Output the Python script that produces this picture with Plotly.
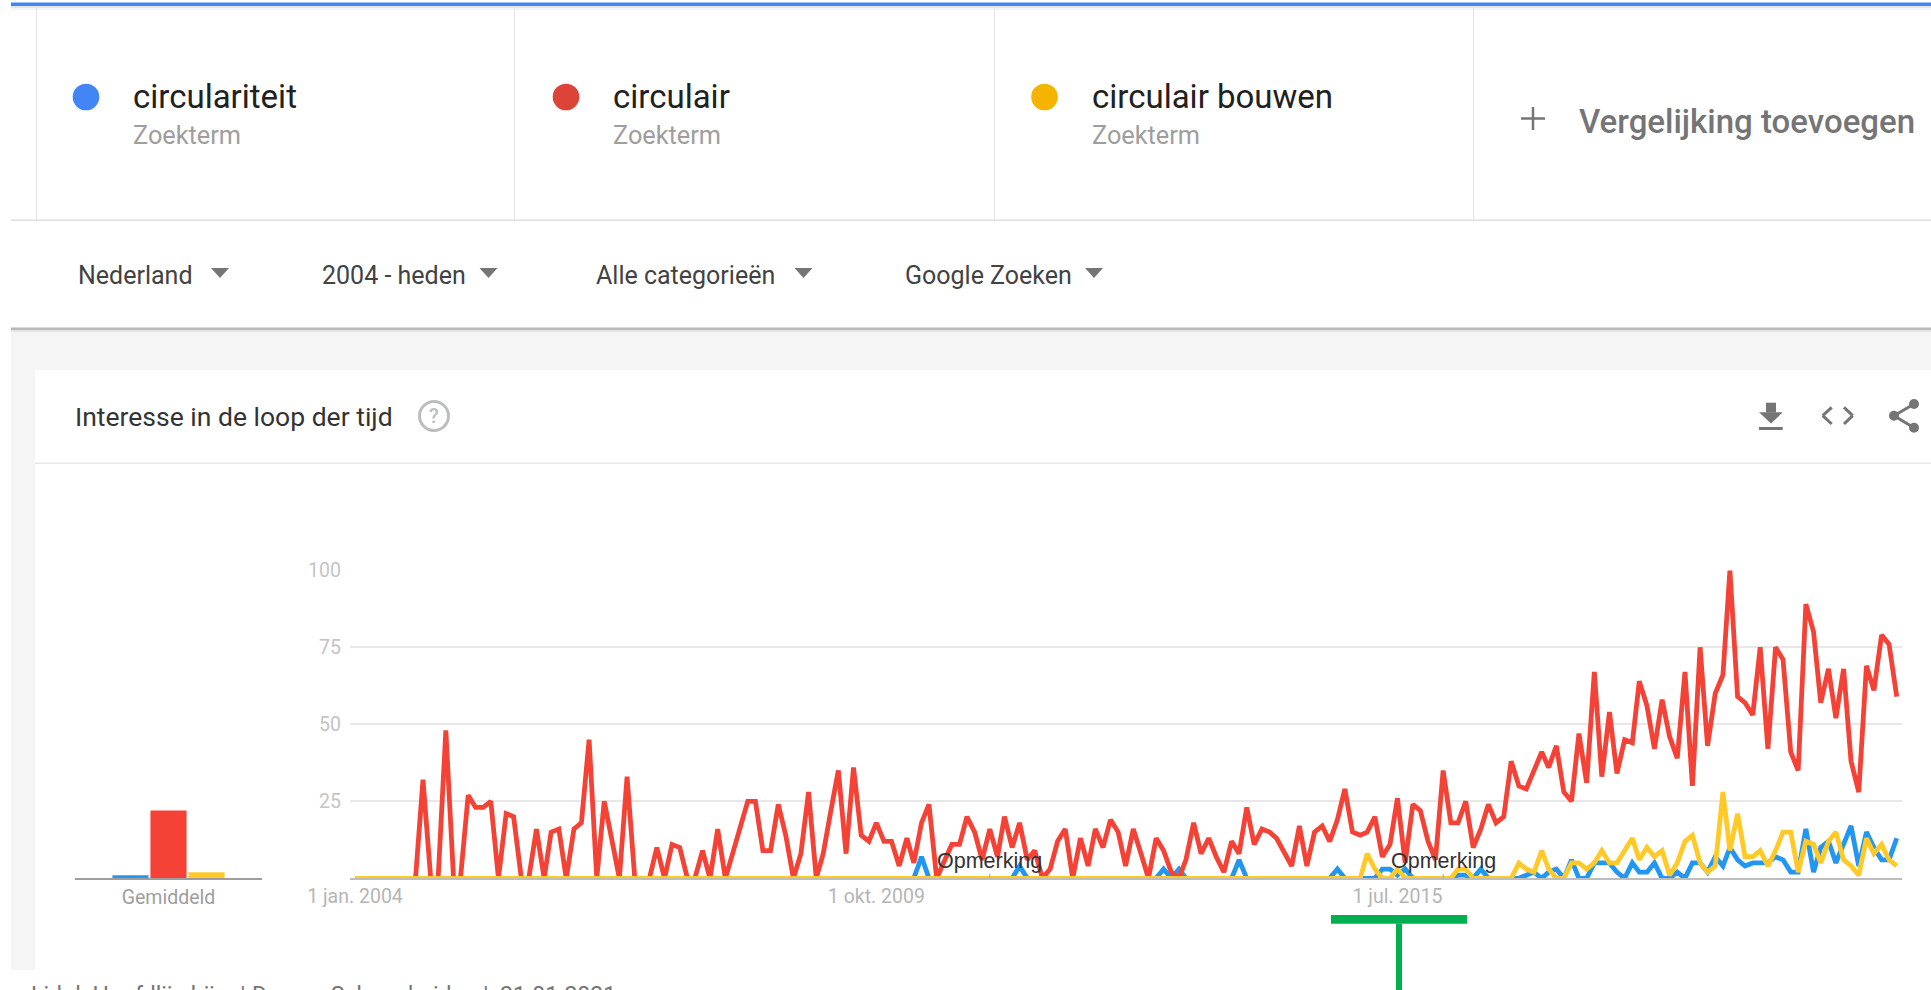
import pandas as pd
import plotly.graph_objects as go

W, H = 1931, 990

# ---------- data ----------
start_month = "2004-01-01"
month_count = 205

circulair = [
    0, 0, 0, 0, 0, 0, 0, 0, 0, 32,
    0, 0, 48, 0, 0, 27, 23, 23, 25, 0,
    21, 20, 0, 0, 16, 0, 15, 16, 0, 16,
    18, 45, 0, 25, 12, 0, 33, 0, 0, 0,
    10, 0, 11, 10, 0, 0, 9, 0, 16, 0,
    8, 17, 25, 25, 9, 9, 24, 14, 0, 8,
    28, 0, 8, 22, 35, 8, 36, 14, 12, 18,
    12, 12, 4, 13, 5, 18, 24, 0, 5, 11,
    11, 20, 15, 6, 16, 7, 20, 10, 18, 6,
    9, 0, 3, 12, 16, 0, 13, 4, 16, 10,
    19, 15, 4, 16, 8, 0, 13, 9, 2, 0,
    6, 18, 8, 13, 7, 2, 12, 8, 23, 11,
    16, 15, 13, 8, 4, 17, 4, 15, 17, 12,
    19, 29, 15, 14, 15, 20, 7, 11, 26, 5,
    24, 22, 12, 6, 35, 18, 18, 25, 10, 16,
    24, 18, 20, 38, 30, 29, 35, 41, 36, 43,
    28, 25, 47, 31, 67, 33, 54, 34, 45, 44,
    64, 56, 42, 58, 46, 39, 67, 30, 75, 43,
    60, 66, 100, 59, 57, 53, 75, 42, 75, 71,
    41, 35, 89, 80, 57, 68, 52, 68, 38, 28,
    69, 61, 79, 76, 59,
]

circulariteit = [
    0, 0, 0, 0, 0, 0, 0, 0, 0, 0,
    0, 0, 0, 0, 0, 0, 0, 0, 0, 0,
    0, 0, 0, 0, 0, 0, 0, 0, 0, 0,
    0, 0, 0, 0, 0, 0, 0, 0, 0, 0,
    0, 0, 0, 0, 0, 0, 0, 0, 0, 0,
    0, 0, 0, 0, 0, 0, 0, 0, 0, 0,
    0, 0, 0, 0, 0, 0, 0, 0, 0, 0,
    0, 0, 0, 0, 0, 7, 0, 0, 0, 0,
    0, 0, 0, 0, 0, 0, 0, 0, 4, 0,
    0, 0, 0, 0, 0, 0, 0, 0, 0, 0,
    0, 0, 0, 0, 0, 0, 0, 3, 0, 3,
    0, 0, 0, 0, 0, 0, 0, 6, 0, 0,
    0, 0, 0, 0, 0, 0, 0, 0, 0, 0,
    3, 0, 0, 0, 0, 0, 3, 3, 1, 3,
    0, 0, 0, 0, 0, 0, 1, 1, 0, 3,
    0, 0, 0, 0, 0, 1, 2, 0, 2, 3,
    0, 6, 0, 0, 5, 5, 5, 2, 0, 5,
    2, 2, 5, 0, 0, 2, 0, 5, 5, 2,
    7, 4, 10, 6, 4, 5, 5, 5, 7, 6,
    2, 2, 16, 2, 10, 12, 5, 11, 17, 4,
    15, 10, 6, 6, 13,
]

circulair_bouwen = [
    0, 0, 0, 0, 0, 0, 0, 0, 0, 0,
    0, 0, 0, 0, 0, 0, 0, 0, 0, 0,
    0, 0, 0, 0, 0, 0, 0, 0, 0, 0,
    0, 0, 0, 0, 0, 0, 0, 0, 0, 0,
    0, 0, 0, 0, 0, 0, 0, 0, 0, 0,
    0, 0, 0, 0, 0, 0, 0, 0, 0, 0,
    0, 0, 0, 0, 0, 0, 0, 0, 0, 0,
    0, 0, 0, 0, 0, 0, 0, 0, 0, 0,
    0, 0, 0, 0, 0, 0, 0, 0, 0, 0,
    0, 0, 0, 0, 0, 0, 0, 0, 0, 0,
    0, 0, 0, 0, 0, 0, 0, 0, 0, 0,
    0, 0, 0, 0, 0, 0, 0, 0, 0, 0,
    0, 0, 0, 0, 0, 0, 0, 0, 0, 0,
    0, 0, 0, 0, 8, 3, 0, 0, 3, 0,
    0, 0, 0, 0, 0, 0, 3, 3, 0, 0,
    0, 0, 0, 0, 5, 3, 2, 9, 3, 0,
    0, 5, 5, 3, 5, 9, 5, 5, 9, 13,
    6, 10, 7, 9, 1, 5, 12, 14, 5, 2,
    4, 28, 9, 21, 7, 7, 9, 4, 9, 15,
    15, 2, 12, 11, 5, 12, 15, 6, 4, 1,
    13, 8, 11, 6, 4,
]

average_category = ["Gemiddeld"]
average_circulariteit = [1]
average_circulair = [22]
average_circulair_bouwen = [2]

y_ticks = [25, 50, 75, 100]
x_tick_dates = ["2004-01-01", "2009-10-01", "2015-07-01"]
x_tick_labels = ["1 jan. 2004", "1 okt. 2009", "1 jul. 2015"]
note_dates = ["2011-01-01", "2016-01-01"]
note_label = "Opmerking"

term_names = ["circulariteit", "circulair", "circulair bouwen"]
term_sub = "Zoekterm"
filter_labels = ["Nederland", "2004 - heden", "Alle categorieën", "Google Zoeken"]
card_title = "Interesse in de loop der tijd"
add_label = "Vergelijking toevoegen"
footer_parts = ["Lid d. Hoofdlijn bij", "|", "Door ... Schoonheid", "|", "21-01-2021"]

# ---------- style ----------
BLUE, RED, YELLOW = "#2196f3", "#f44336", "#ffca28"
CHIP_BLUE, CHIP_RED, CHIP_YELLOW = "#4285f4", "#db4437", "#f4b400"
FONT = "Roboto"
ICON = "#757575"

assert len(circulair) == len(circulariteit) == len(circulair_bouwen) == month_count
months = pd.date_range(start_month, periods=month_count, freq="MS")


def px(x):
    return x / W


def py(y):
    return 1 - y / H


shapes = []
annotations = []


def rect(x0, y0, x1, y1, fill):
    shapes.append(dict(type="rect", xref="paper", yref="paper", layer="below",
                       x0=px(x0), x1=px(x1), y0=py(y0), y1=py(y1),
                       fillcolor=fill, line_width=0))


def line(x0, y0, x1, y1, color, width, layer="below"):
    shapes.append(dict(type="line", xref="paper", yref="paper", layer=layer,
                       x0=px(x0), x1=px(x1), y0=py(y0), y1=py(y1),
                       line=dict(color=color, width=width)))


def circle(cx, cy, r, fill, outline=None, width=0):
    shapes.append(dict(type="circle", xref="paper", yref="paper", layer="below",
                       x0=px(cx - r), x1=px(cx + r), y0=py(cy + r), y1=py(cy - r),
                       fillcolor=fill, line=dict(color=outline or fill, width=width)))


def poly(points, fill):
    d = "M " + " L ".join(f"{px(x):.5f} {py(y):.5f}" for x, y in points) + " Z"
    shapes.append(dict(type="path", xref="paper", yref="paper", layer="below",
                       path=d, fillcolor=fill, line_width=0))


def label(x, y, text, size, color, anchor="left", weight=None, yanchor="middle"):
    annotations.append(dict(xref="paper", yref="paper", x=px(x), y=py(y), text=text,
                            showarrow=False, xanchor=anchor, yanchor=yanchor,
                            borderpad=0, borderwidth=0,
                            font=dict(family=FONT, size=size, color=color,
                                      weight=weight if weight else 400)))


# page chrome
rect(11, 0, W, 330, "#ffffff")
rect(11, 330, W, 970, "#f5f5f5")
rect(35, 370, W, 970, "#ffffff")
rect(11, 2.5, W, 6.2, CHIP_BLUE)
rect(11, 6.2, W, 8, "#e6e6e6")
rect(11, 8, W, 10, "#f5f5f5")
rect(11, 219.5, W, 221, "#e0e0e0")
rect(11, 327.5, W, 330, "#b8b8b8")
rect(11, 330, W, 332, "#e6e6e6")
rect(35, 462.5, W, 464, "#e8e8e8")
for divider_x in (36, 514, 994, 1473):
    rect(divider_x, 7, divider_x + 1, 220, "#e5e5e5")

# search term chips
for cx, colour, name in zip((86, 566, 1044.5), (CHIP_BLUE, CHIP_RED, CHIP_YELLOW), term_names):
    circle(cx, 97, 13.3, colour)
    label(cx + 47, 97, name, 33, "#212121")
    label(cx + 47, 135, term_sub, 25.3, "#9e9e9e")

# add comparison
line(1521, 118.5, 1545, 118.5, ICON, 2.5)
line(1533, 107, 1533, 130, ICON, 2.5)
label(1579, 121, add_label, 33, ICON, weight=500)

# filter row
for x, text, arrow_x in zip((78, 322, 596, 905), filter_labels, (220, 488.5, 803.5, 1094)):
    label(x, 275, text, 25, "#424242")
    poly([(arrow_x - 9, 268), (arrow_x + 9, 268), (arrow_x, 278)], ICON)

# card header
label(75, 416, card_title, 26.5, "#333333")
circle(434, 416, 14.5, "#ffffff", "#bdbdbd", 3)
label(434, 416, "?", 20, "#bdbdbd", anchor="center", weight=500)

# header icons
rect(1766, 402.7, 1776, 412.5, ICON)
poly([(1759, 412.3), (1782.7, 412.3), (1771, 423.5)], ICON)
rect(1759, 427, 1782.7, 430, ICON)
for bx0, bx1, bx2 in ((1831.7, 1822.7, 1831.7), (1844, 1852.7, 1844)):
    line(bx0, 407.3, bx1, 415.7, ICON, 3)
    line(bx1, 415.7, bx2, 424, ICON, 3)
line(1894, 415.7, 1914, 404, ICON, 3)
line(1894, 415.7, 1914, 427.7, ICON, 3)
for sx, sy in ((1914, 404), (1894, 415.7), (1914, 427.7)):
    circle(sx, sy, 5, ICON)

# green T drawn over the screenshot
rect(1331, 915, 1467, 923.7, "#00b050")
rect(1396, 923.7, 1402, H, "#00b050")

# clipped footer line
for x, part in zip((31, 240, 252, 483, 500), footer_parts):
    label(x, 982, part, 23, "#757575", yanchor="top")

# note markers on the time axis
for note in note_dates:
    annotations.append(dict(xref="x", yref="paper", x=note, y=py(861), text=note_label,
                            showarrow=False, xanchor="center", yanchor="middle",
                            font=dict(family="Liberation Sans", size=21.5, color="#333333")))
    shapes.append(dict(type="line", xref="x", yref="paper", layer="above",
                       x0=note, x1=note, y0=py(874), y1=py(878),
                       line=dict(color="#9e9e9e", width=1)))

fig = go.Figure()

for name, values, colour in ((term_names[0], circulariteit, BLUE),
                             (term_names[1], circulair, RED),
                             (term_names[2], circulair_bouwen, YELLOW)):
    fig.add_trace(go.Scatter(x=months, y=values, mode="lines", name=name, cliponaxis=False,
                             line=dict(color=colour, width=4.8), hoverinfo="skip",
                             xaxis="x", yaxis="y"))

for name, values, colour in ((term_names[0], average_circulariteit, BLUE),
                             (term_names[1], average_circulair, RED),
                             (term_names[2], average_circulair_bouwen, YELLOW)):
    fig.add_trace(go.Bar(x=average_category, y=values, name=name,
                         marker=dict(color=colour, line_width=0), hoverinfo="skip",
                         xaxis="x2", yaxis="y2"))

y_domain = [py(878.3), py(570.3)]
tick_font = dict(family=FONT, size=19.5, color="#b5b5b5")

fig.update_layout(
    width=W, height=H, autosize=False,
    margin=dict(l=0, r=0, t=0, b=0, pad=0),
    paper_bgcolor="#ffffff", plot_bgcolor="rgba(0,0,0,0)",
    showlegend=False, hovermode=False,
    barmode="group", bargap=0.39, bargroupgap=0.05,
    shapes=shapes, annotations=annotations,
    xaxis=dict(type="date", domain=[px(350), px(1901.7)], automargin=False,
               range=["2003-12-12", "2021-01-21"],
               tickmode="array", tickvals=x_tick_dates, ticktext=x_tick_labels,
               tickfont=tick_font, ticks="", ticklabelstandoff=-1,
               showgrid=False, zeroline=False, showline=True,
               linecolor="#bdbdbd", linewidth=2, anchor="y"),
    yaxis=dict(domain=y_domain, range=[0, 100], automargin=False,
               tickmode="array", tickvals=y_ticks,
               tickfont=dict(family=FONT, size=19.5, color="#c4c4c4"),
               ticks="", ticklabelstandoff=8,
               showgrid=True, gridcolor="#e8e8e8", gridwidth=1.6,
               zeroline=False, showline=False, anchor="x"),
    xaxis2=dict(type="category", domain=[px(75), px(262)], automargin=False,
                tickfont=dict(family=FONT, size=19.5, color="#9e9e9e"),
                ticks="", ticklabelstandoff=0,
                showgrid=False, zeroline=False, showline=True,
                linecolor="#9e9e9e", linewidth=2, anchor="y2"),
    yaxis2=dict(domain=y_domain, range=[0, 100], visible=False, anchor="x2", automargin=False),
)

fig.write_html("out.html", config=dict(displayModeBar=False, responsive=False),
               post_script="document.body.style.margin='0';document.body.style.overflow='hidden';"
                           "document.documentElement.style.overflow='hidden';")
